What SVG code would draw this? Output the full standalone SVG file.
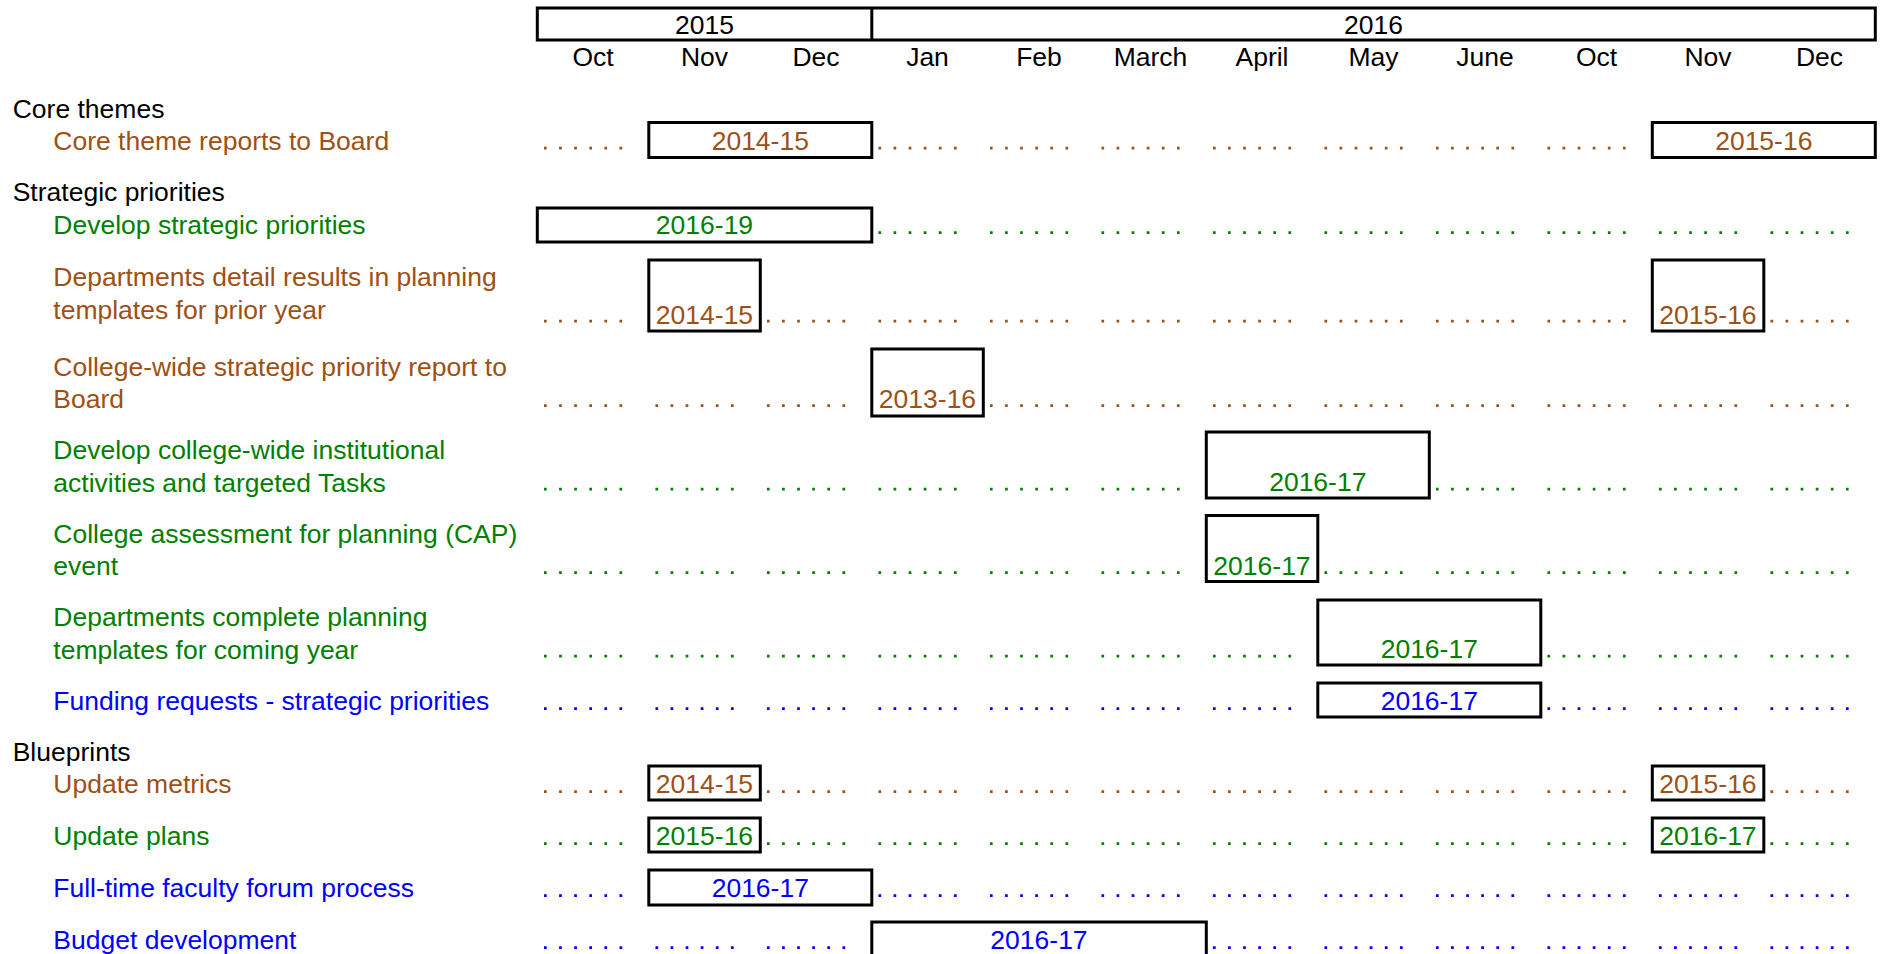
<svg xmlns="http://www.w3.org/2000/svg" xmlns:xlink="http://www.w3.org/1999/xlink" width="1889" height="954" viewBox="0 0 1889 954">
<style>
text{font-family:"Liberation Sans",Arial,sans-serif;font-size:26.5px}
.hd{fill:#000}
.br{fill:#9E5015}
.gr{fill:#008000}
.bl{fill:#0000FF}
.c{text-anchor:middle}
.box{fill:#fff;stroke:#000;stroke-width:3}
.dbr{stroke:#9E5015}
.dgr{stroke:#008000}
.dbl{stroke:#0000FF}
</style>
<defs>
<line id="dt" x1="0" y1="0" x2="78.2" y2="0" stroke-width="2.7" stroke-dasharray="2.7 12.4"/>
</defs>
<rect width="1889" height="954" fill="#fff"/>
<g id="header">
<rect class="box" x="537.3" y="8" width="1338" height="32"/>
<line x1="871.8" y1="8" x2="871.8" y2="40" stroke="#000" stroke-width="3"/>
<text class="hd c" x="704.5" y="34">2015</text>
<text class="hd c" x="1373.5" y="34">2016</text>
<text class="hd c" x="593" y="65.5">Oct</text>
<text class="hd c" x="704.5" y="65.5">Nov</text>
<text class="hd c" x="816" y="65.5">Dec</text>
<text class="hd c" x="927.5" y="65.5">Jan</text>
<text class="hd c" x="1039" y="65.5">Feb</text>
<text class="hd c" x="1150.5" y="65.5">March</text>
<text class="hd c" x="1262" y="65.5">April</text>
<text class="hd c" x="1373.5" y="65.5">May</text>
<text class="hd c" x="1485" y="65.5">June</text>
<text class="hd c" x="1596.5" y="65.5">Oct</text>
<text class="hd c" x="1708" y="65.5">Nov</text>
<text class="hd c" x="1819.5" y="65.5">Dec</text>
</g>
<g id="sections">
<text class="hd" x="12.7" y="117.5">Core themes</text>
<text class="hd" x="12.7" y="201">Strategic priorities</text>
<text class="hd" x="12.7" y="761">Blueprints</text>
</g>
<g id="labels">
<text class="br" x="53.3" y="149.5">Core theme reports to Board</text>
<text class="gr" x="53.3" y="234">Develop strategic priorities</text>
<text class="br" x="53.3" y="286">Departments detail results in planning</text>
<text class="br" x="53.3" y="318.5">templates for prior year</text>
<text class="br" x="53.3" y="375.5">College-wide strategic priority report to</text>
<text class="br" x="53.3" y="408">Board</text>
<text class="gr" x="53.3" y="459">Develop college-wide institutional</text>
<text class="gr" x="53.3" y="491.5">activities and targeted Tasks</text>
<text class="gr" x="53.3" y="542.5">College assessment for planning (CAP)</text>
<text class="gr" x="53.3" y="575">event</text>
<text class="gr" x="53.3" y="626">Departments complete planning</text>
<text class="gr" x="53.3" y="658.5">templates for coming year</text>
<text class="bl" x="53.3" y="710">Funding requests - strategic priorities</text>
<text class="br" x="53.3" y="793">Update metrics</text>
<text class="gr" x="53.3" y="845">Update plans</text>
<text class="bl" x="53.3" y="897">Full-time faculty forum process</text>
<text class="bl" x="53.3" y="949">Budget development</text>
</g>
<g id="connectors">
<g class="dbr" transform="translate(0,148.2)">
<use xlink:href="#dt" x="544"/><use xlink:href="#dt" x="878.45"/><use xlink:href="#dt" x="989.95"/><use xlink:href="#dt" x="1101.45"/><use xlink:href="#dt" x="1212.95"/><use xlink:href="#dt" x="1324.45"/><use xlink:href="#dt" x="1435.95"/><use xlink:href="#dt" x="1547.45"/>
</g>
<g class="dgr" transform="translate(0,232.7)">
<use xlink:href="#dt" x="878.45"/><use xlink:href="#dt" x="989.95"/><use xlink:href="#dt" x="1101.45"/><use xlink:href="#dt" x="1212.95"/><use xlink:href="#dt" x="1324.45"/><use xlink:href="#dt" x="1435.95"/><use xlink:href="#dt" x="1547.45"/><use xlink:href="#dt" x="1658.95"/><use xlink:href="#dt" x="1770.45"/>
</g>
<g class="dbr" transform="translate(0,321.2)">
<use xlink:href="#dt" x="544"/><use xlink:href="#dt" x="766.95"/><use xlink:href="#dt" x="878.45"/><use xlink:href="#dt" x="989.95"/><use xlink:href="#dt" x="1101.45"/><use xlink:href="#dt" x="1212.95"/><use xlink:href="#dt" x="1324.45"/><use xlink:href="#dt" x="1435.95"/><use xlink:href="#dt" x="1547.45"/><use xlink:href="#dt" x="1770.45"/>
</g>
<g class="dbr" transform="translate(0,405.7)">
<use xlink:href="#dt" x="544"/><use xlink:href="#dt" x="655.45"/><use xlink:href="#dt" x="766.95"/><use xlink:href="#dt" x="989.95"/><use xlink:href="#dt" x="1101.45"/><use xlink:href="#dt" x="1212.95"/><use xlink:href="#dt" x="1324.45"/><use xlink:href="#dt" x="1435.95"/><use xlink:href="#dt" x="1547.45"/><use xlink:href="#dt" x="1658.95"/><use xlink:href="#dt" x="1770.45"/>
</g>
<g class="dgr" transform="translate(0,489.2)">
<use xlink:href="#dt" x="544"/><use xlink:href="#dt" x="655.45"/><use xlink:href="#dt" x="766.95"/><use xlink:href="#dt" x="878.45"/><use xlink:href="#dt" x="989.95"/><use xlink:href="#dt" x="1101.45"/><use xlink:href="#dt" x="1435.95"/><use xlink:href="#dt" x="1547.45"/><use xlink:href="#dt" x="1658.95"/><use xlink:href="#dt" x="1770.45"/>
</g>
<g class="dgr" transform="translate(0,572.7)">
<use xlink:href="#dt" x="544"/><use xlink:href="#dt" x="655.45"/><use xlink:href="#dt" x="766.95"/><use xlink:href="#dt" x="878.45"/><use xlink:href="#dt" x="989.95"/><use xlink:href="#dt" x="1101.45"/><use xlink:href="#dt" x="1324.45"/><use xlink:href="#dt" x="1435.95"/><use xlink:href="#dt" x="1547.45"/><use xlink:href="#dt" x="1658.95"/><use xlink:href="#dt" x="1770.45"/>
</g>
<g class="dgr" transform="translate(0,656.2)">
<use xlink:href="#dt" x="544"/><use xlink:href="#dt" x="655.45"/><use xlink:href="#dt" x="766.95"/><use xlink:href="#dt" x="878.45"/><use xlink:href="#dt" x="989.95"/><use xlink:href="#dt" x="1101.45"/><use xlink:href="#dt" x="1212.95"/><use xlink:href="#dt" x="1547.45"/><use xlink:href="#dt" x="1658.95"/><use xlink:href="#dt" x="1770.45"/>
</g>
<g class="dbl" transform="translate(0,708.7)">
<use xlink:href="#dt" x="544"/><use xlink:href="#dt" x="655.45"/><use xlink:href="#dt" x="766.95"/><use xlink:href="#dt" x="878.45"/><use xlink:href="#dt" x="989.95"/><use xlink:href="#dt" x="1101.45"/><use xlink:href="#dt" x="1212.95"/><use xlink:href="#dt" x="1547.45"/><use xlink:href="#dt" x="1658.95"/><use xlink:href="#dt" x="1770.45"/>
</g>
<g class="dbr" transform="translate(0,791.7)">
<use xlink:href="#dt" x="544"/><use xlink:href="#dt" x="766.95"/><use xlink:href="#dt" x="878.45"/><use xlink:href="#dt" x="989.95"/><use xlink:href="#dt" x="1101.45"/><use xlink:href="#dt" x="1212.95"/><use xlink:href="#dt" x="1324.45"/><use xlink:href="#dt" x="1435.95"/><use xlink:href="#dt" x="1547.45"/><use xlink:href="#dt" x="1770.45"/>
</g>
<g class="dgr" transform="translate(0,843.7)">
<use xlink:href="#dt" x="544"/><use xlink:href="#dt" x="766.95"/><use xlink:href="#dt" x="878.45"/><use xlink:href="#dt" x="989.95"/><use xlink:href="#dt" x="1101.45"/><use xlink:href="#dt" x="1212.95"/><use xlink:href="#dt" x="1324.45"/><use xlink:href="#dt" x="1435.95"/><use xlink:href="#dt" x="1547.45"/><use xlink:href="#dt" x="1770.45"/>
</g>
<g class="dbl" transform="translate(0,895.7)">
<use xlink:href="#dt" x="544"/><use xlink:href="#dt" x="878.45"/><use xlink:href="#dt" x="989.95"/><use xlink:href="#dt" x="1101.45"/><use xlink:href="#dt" x="1212.95"/><use xlink:href="#dt" x="1324.45"/><use xlink:href="#dt" x="1435.95"/><use xlink:href="#dt" x="1547.45"/><use xlink:href="#dt" x="1658.95"/><use xlink:href="#dt" x="1770.45"/>
</g>
<g class="dbl" transform="translate(0,947.7)">
<use xlink:href="#dt" x="544"/><use xlink:href="#dt" x="655.45"/><use xlink:href="#dt" x="766.95"/><use xlink:href="#dt" x="1212.95"/><use xlink:href="#dt" x="1324.45"/><use xlink:href="#dt" x="1435.95"/><use xlink:href="#dt" x="1547.45"/><use xlink:href="#dt" x="1658.95"/><use xlink:href="#dt" x="1770.45"/>
</g>
</g>
<g id="bar-core-1"><rect class="box" x="648.8" y="122.5" width="223" height="35"/><text class="br c" x="760.3" y="149.5">2014-15</text></g>
<g id="bar-core-2"><rect class="box" x="1652.3" y="122.5" width="223" height="35"/><text class="br c" x="1763.8" y="149.5">2015-16</text></g>
<g id="bar-strat"><rect class="box" x="537.3" y="208" width="334.5" height="34"/><text class="gr c" x="704.5" y="234">2016-19</text></g>
<g id="bar-dept-1"><rect class="box" x="648.8" y="260" width="111.5" height="71"/><text class="br c" x="704.5" y="324">2014-15</text></g>
<g id="bar-dept-2"><rect class="box" x="1652.3" y="260" width="111.5" height="71"/><text class="br c" x="1708" y="324">2015-16</text></g>
<g id="bar-report"><rect class="box" x="871.8" y="349" width="111.5" height="67"/><text class="br c" x="927.5" y="408">2013-16</text></g>
<g id="bar-inst"><rect class="box" x="1206.3" y="432" width="223" height="66"/><text class="gr c" x="1317.8" y="491">2016-17</text></g>
<g id="bar-cap"><rect class="box" x="1206.3" y="515.5" width="111.5" height="66"/><text class="gr c" x="1262" y="574.5">2016-17</text></g>
<g id="bar-complete"><rect class="box" x="1317.8" y="600" width="223" height="65"/><text class="gr c" x="1429.3" y="658">2016-17</text></g>
<g id="bar-funding"><rect class="box" x="1317.8" y="683" width="223" height="34"/><text class="bl c" x="1429.3" y="710">2016-17</text></g>
<g id="bar-metrics-1"><rect class="box" x="648.8" y="766" width="111.5" height="34"/><text class="br c" x="704.5" y="793">2014-15</text></g>
<g id="bar-metrics-2"><rect class="box" x="1652.3" y="766" width="111.5" height="34"/><text class="br c" x="1708" y="793">2015-16</text></g>
<g id="bar-plans-1"><rect class="box" x="648.8" y="818" width="111.5" height="34"/><text class="gr c" x="704.5" y="845">2015-16</text></g>
<g id="bar-plans-2"><rect class="box" x="1652.3" y="818" width="111.5" height="34"/><text class="gr c" x="1708" y="845">2016-17</text></g>
<g id="bar-faculty"><rect class="box" x="648.8" y="870" width="223" height="35"/><text class="bl c" x="760.3" y="897">2016-17</text></g>
<g id="bar-budget"><rect class="box" x="871.8" y="922" width="334.5" height="36"/><text class="bl c" x="1039" y="949">2016-17</text></g>
</svg>
